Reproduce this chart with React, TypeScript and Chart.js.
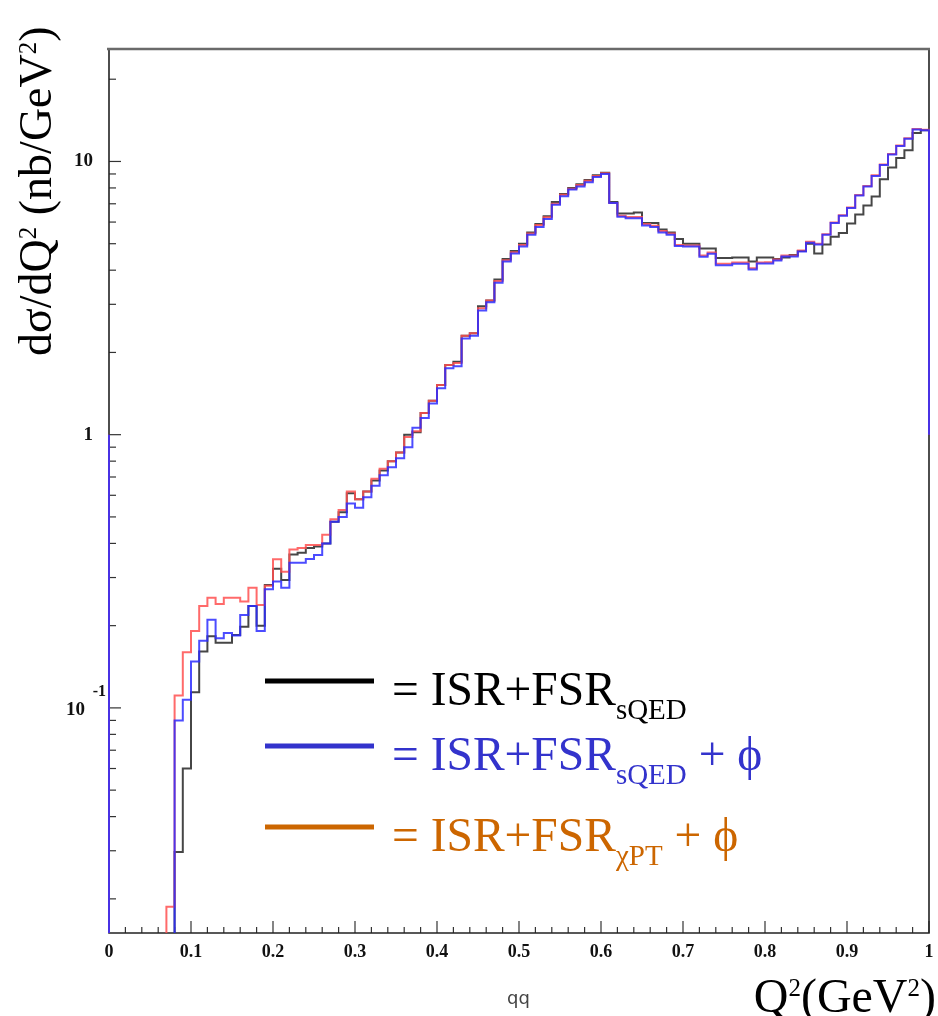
import { useEffect, useRef } from 'react';
import { Chart, registerables } from 'chart.js';

Chart.register(...registerables);

// Q^2 bin lower edges (GeV^2), bin width 0.01, from 0.07 to 0.99
const binLowEdges: number[] = Array.from({ length: 93 }, (_, i) => Math.round((0.07 + i * 0.01) * 100) / 100);

// black: ISR+FSR sQED
const isrFsrSQED: number[] = [
  0, 0.0297, 0.06, 0.114, 0.161, 0.183, 0.173, 0.173, 0.185, 0.198,
  0.236, 0.20, 0.282, 0.323, 0.294, 0.364, 0.37, 0.385, 0.39, 0.40,
  0.48, 0.52, 0.61, 0.58, 0.62, 0.68, 0.74, 0.80, 0.86, 1.0,
  1.02, 1.2, 1.33, 1.52, 1.8, 1.85, 2.3, 2.35, 2.95, 3.1,
  3.7, 4.4, 4.7, 5.0, 5.5, 5.9, 6.3, 7.1, 7.6, 8.0,
  8.25, 8.55, 8.9, 9.1, 7.1, 6.45, 6.45, 6.5, 5.95, 5.95,
  5.64, 5.5, 5.2, 5.0, 5.0, 4.8, 4.8, 4.43, 4.43, 4.45,
  4.45, 4.3, 4.45, 4.45, 4.4, 4.45, 4.55, 4.7, 5.0, 4.6,
  4.97, 5.3, 5.47, 5.93, 6.4, 6.9, 7.45, 8.6, 9.5, 10.3,
  11.0, 12.7, 13.0,
];

// blue: ISR+FSR sQED + phi
const isrFsrSQEDPhi: number[] = [
  0, 0.090, 0.107, 0.148, 0.176, 0.21, 0.18, 0.188, 0.184, 0.219,
  0.236, 0.191, 0.272, 0.29, 0.275, 0.34, 0.34, 0.351, 0.363, 0.40,
  0.48, 0.50, 0.56, 0.54, 0.59, 0.65, 0.71, 0.76, 0.82, 0.90,
  1.06, 1.15, 1.30, 1.48, 1.75, 1.78, 2.25, 2.3, 2.85, 3.05,
  3.6, 4.3, 4.6, 4.88, 5.39, 5.76, 6.16, 6.95, 7.46, 7.89,
  8.1, 8.4, 8.77, 9.0, 7.05, 6.27, 6.2, 6.2, 5.83, 5.76,
  5.5, 5.39, 4.9, 4.88, 4.88, 4.48, 4.59, 4.17, 4.17, 4.22,
  4.22, 4.02, 4.23, 4.23, 4.34, 4.49, 4.49, 4.68, 5.04, 4.97,
  5.39, 5.95, 6.33, 6.75, 7.5, 8.1, 8.85, 9.7, 10.6, 11.4,
  12.1, 13.1, 13.0,
];

// red: ISR+FSR chiPT + phi
const isrFsrChiPTPhi: number[] = [
  0.0187, 0.111, 0.160, 0.191, 0.236, 0.253, 0.24, 0.253, 0.253, 0.245,
  0.275, 0.238, 0.28, 0.35, 0.315, 0.38, 0.385, 0.395, 0.395, 0.43,
  0.49, 0.53, 0.62, 0.58, 0.62, 0.69, 0.75, 0.80, 0.86, 0.98,
  1.03, 1.2, 1.33, 1.52, 1.8, 1.83, 2.3, 2.35, 2.9, 3.1,
  3.65, 4.35, 4.65, 4.95, 5.45, 5.85, 6.25, 7.0, 7.55, 7.95,
  8.2, 8.5, 8.85, 9.05, 7.05, 6.33, 6.26, 6.26, 5.9, 5.82,
  5.56, 5.45, 4.95, 4.93, 4.93, 4.53, 4.64, 4.22, 4.22, 4.27,
  4.27, 4.07, 4.27, 4.28, 4.38, 4.53, 4.53, 4.72, 5.08, 5.0,
  5.42, 5.98, 6.36, 6.78, 7.54, 8.14, 8.9, 9.75, 10.65, 11.45,
  12.15, 13.15, 13.05,
];

// value drawn by the histogram outline at both edges of the x range
const edgeValue = 1;
const emptyFloor = 1e-3;

const xRange = [0, 1];
const yRange = [0.015, 25.8];
const xTickLabels = ['0', '0.1', '0.2', '0.3', '0.4', '0.5', '0.6', '0.7', '0.8', '0.9', '1'];
const yTickValues = [10, 1, 0.1];

const legendTexts = [
  { main: '= ISR+FSR', sub: 'sQED', tail: '' },
  { main: '= ISR+FSR', sub: 'sQED', tail: ' + ϕ' },
  { main: '= ISR+FSR', sub: 'χPT', tail: ' + ϕ' },
];
const legendColors = ['#000000', '#3333cc', '#cc6600'];

const SERIF = '"Liberation Serif", "Times New Roman", serif';

function histPoints(values: number[]) {
  const pts: { x: number; y: number }[] = [{ x: xRange[0], y: edgeValue }, { x: xRange[0], y: emptyFloor }];
  values.forEach((v, i) => pts.push({ x: binLowEdges[i], y: v > 0 ? v : emptyFloor }));
  pts.push({ x: xRange[1], y: edgeValue });
  return pts;
}

type Run = { t: string; size: number; dy?: number; color?: string };

function runsWidth(ctx: CanvasRenderingContext2D, runs: Run[]) {
  let w = 0;
  for (const r of runs) {
    ctx.font = `${r.size}px ${SERIF}`;
    w += ctx.measureText(r.t).width;
  }
  return w;
}

function drawRuns(ctx: CanvasRenderingContext2D, x: number, y: number, runs: Run[]) {
  let cx = x;
  ctx.textBaseline = 'alphabetic';
  ctx.textAlign = 'left';
  for (const r of runs) {
    ctx.font = `${r.size}px ${SERIF}`;
    if (r.color) ctx.fillStyle = r.color;
    ctx.fillText(r.t, cx, y + (r.dy || 0));
    cx += ctx.measureText(r.t).width;
  }
  return cx;
}

const decorPlugin = {
  id: 'decor',
  beforeDatasetsDraw(chart: any) {
    const { ctx, chartArea: a, scales } = chart;
    const x = scales.x;
    const y = scales.y;
    ctx.save();
    ctx.strokeStyle = '#333';
    ctx.lineWidth = 1.2;
    // x ticks (inward from bottom)
    for (let i = 0; i <= 50; i++) {
      const px = x.getPixelForValue(i / 50);
      const len = i % 5 === 0 ? 12 : 6;
      ctx.beginPath();
      ctx.moveTo(px, a.bottom);
      ctx.lineTo(px, a.bottom - len);
      ctx.stroke();
    }
    // y ticks (inward from left)
    for (let d = -2; d <= 1; d++) {
      for (let m = 1; m <= 9; m++) {
        const v = m * Math.pow(10, d);
        if (v < y.min || v > y.max) continue;
        const py = y.getPixelForValue(v);
        const len = m === 1 ? 12 : 7;
        ctx.beginPath();
        ctx.moveTo(a.left, py);
        ctx.lineTo(a.left + len, py);
        ctx.stroke();
      }
    }
    // frame
    ctx.strokeStyle = '#222';
    ctx.lineWidth = 1.6;
    ctx.beginPath();
    ctx.moveTo(a.left, a.top);
    ctx.lineTo(a.left, a.bottom);
    ctx.lineTo(a.right, a.bottom);
    ctx.lineTo(a.right, a.top);
    ctx.stroke();
    ctx.strokeStyle = '#6a6a6a';
    ctx.lineWidth = 2.6;
    ctx.beginPath();
    ctx.moveTo(a.left - 2, a.top);
    ctx.lineTo(a.right + 1, a.top);
    ctx.stroke();
    ctx.restore();
  },
  afterDraw(chart: any) {
    const { ctx, chartArea: a, scales } = chart;
    const x = scales.x;
    const y = scales.y;
    ctx.save();
    // x tick labels
    ctx.fillStyle = '#111';
    ctx.font = `bold 18px ${SERIF}`;
    ctx.textAlign = 'center';
    ctx.textBaseline = 'middle';
    xTickLabels.forEach((t) => {
      const v = parseFloat(t);
      ctx.fillText(t, x.getPixelForValue(v), a.bottom + 19);
    });
    // y tick labels
    yTickValues.forEach((v) => {
      const py = y.getPixelForValue(v);
      const exp = Math.round(Math.log10(v));
      ctx.textAlign = 'right';
      ctx.textBaseline = 'middle';
      if (exp >= 0) {
        ctx.font = `bold 19px ${SERIF}`;
        ctx.fillText(String(v), a.left - 16, py);
      } else {
        ctx.font = `bold 19px ${SERIF}`;
        ctx.fillText('10', a.left - 24, py + 2);
        ctx.font = `bold 16px ${SERIF}`;
        ctx.fillText(String(exp), a.left - 3, py - 16);
      }
    });
    // y axis title
    ctx.save();
    ctx.translate(51, 356);
    ctx.rotate(-Math.PI / 2);
    ctx.fillStyle = '#000';
    drawRuns(ctx, 0, 0, [
      { t: 'dσ/dQ', size: 46 },
      { t: '2', size: 25, dy: -15 },
      { t: ' (nb/GeV', size: 46 },
      { t: '2', size: 25, dy: -15 },
      { t: ')', size: 46 },
    ]);
    ctx.restore();
    // x axis title
    const xRuns: Run[] = [
      { t: 'Q', size: 48 },
      { t: '2', size: 25, dy: -16 },
      { t: '(GeV', size: 48 },
      { t: '2', size: 25, dy: -16 },
      { t: ')', size: 48 },
    ];
    ctx.fillStyle = '#000';
    const w = runsWidth(ctx, xRuns);
    drawRuns(ctx, 936 - w, 1012, xRuns);
    // small 'qq' label
    ctx.fillStyle = '#444';
    ctx.font = '18px "DejaVu Sans", sans-serif';
    ctx.textAlign = 'left';
    ctx.textBaseline = 'alphabetic';
    ctx.fillText('qq', 507, 1004);
    // legend
    const lineY = [681, 746, 827];
    const textY = [705, 770, 851];
    legendTexts.forEach((entry, i) => {
      ctx.strokeStyle = legendColors[i];
      ctx.lineWidth = 5;
      ctx.beginPath();
      ctx.moveTo(265, lineY[i]);
      ctx.lineTo(374, lineY[i]);
      ctx.stroke();
      const runs: Run[] = [
        { t: entry.main, size: 47.5, color: legendColors[i] },
        { t: entry.sub, size: 29, dy: 14 },
      ];
      if (entry.tail) runs.push({ t: entry.tail, size: 47.5 });
      drawRuns(ctx, 392, textY[i], runs);
    });
    ctx.restore();
  },
};

export default function App() {
  const ref = useRef<HTMLCanvasElement | null>(null);
  useEffect(() => {
    if (!ref.current) return;
    const mk = (label: string, values: number[], color: string, order: number) => ({
      label,
      data: histPoints(values),
      borderColor: color,
      borderWidth: 2,
      pointRadius: 0,
      stepped: 'before' as const,
      fill: false,
      order,
      clip: { left: 3, right: 3, top: 0, bottom: 0 },
    });
    const chart = new Chart(ref.current, {
      type: 'line',
      data: {
        datasets: [
          mk('ISR+FSR sQED + phi', isrFsrSQEDPhi, 'rgba(45,45,255,0.85)', 0),
          mk('ISR+FSR chiPT + phi', isrFsrChiPTPhi, 'rgba(255,80,80,0.85)', 1),
          mk('ISR+FSR sQED', isrFsrSQED, 'rgba(50,50,50,0.9)', 2),
        ],
      },
      options: {
        responsive: false,
        animation: false,
        events: [],
        layout: { padding: { left: 109, top: 49, right: 9, bottom: 83 } },
        scales: {
          x: { type: 'linear', min: xRange[0], max: xRange[1], display: false },
          y: { type: 'logarithmic', min: yRange[0], max: yRange[1], display: false },
        },
        plugins: { legend: { display: false }, tooltip: { enabled: false } },
      },
      plugins: [decorPlugin],
    });
    return () => chart.destroy();
  }, []);
  return (
    <div style={{ position: 'fixed', left: 0, top: 0, width: 938, height: 1016, background: '#fff' }}>
      <canvas ref={ref} width={938} height={1016} style={{ display: 'block' }} />
    </div>
  );
}
